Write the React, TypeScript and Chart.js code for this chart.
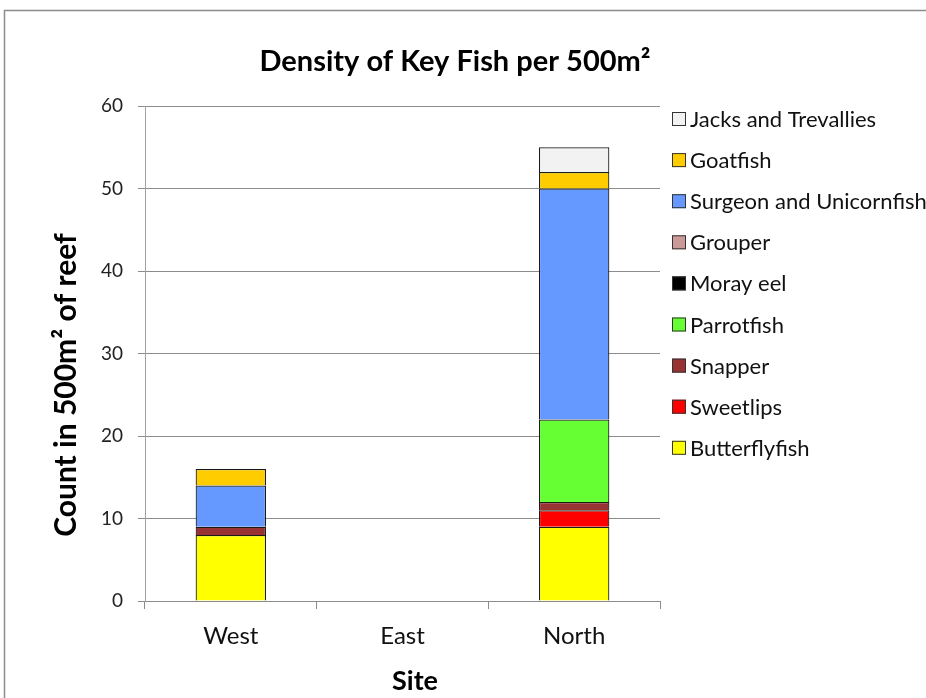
import React, { useEffect, useRef } from 'react';
import { Chart, registerables } from 'chart.js';

Chart.register(...registerables);

const sites = ['West', 'East', 'North'];
const speciesNames = [
  'Butterflyfish',
  'Sweetlips',
  'Snapper',
  'Parrotfish',
  'Moray eel',
  'Grouper',
  'Surgeon and Unicornfish',
  'Goatfish',
  'Jacks and Trevallies',
];
const butterflyfish = [8, 0, 9];
const sweetlips = [0, 0, 2];
const snapper = [1, 0, 1];
const parrotfish = [0, 0, 10];
const morayEel = [0, 0, 0];
const grouper = [0, 0, 0];
const surgeonUnicorn = [5, 0, 28];
const goatfish = [2, 0, 2];
const jacksTrevallies = [0, 0, 3];
const speciesColors = [
  '#FFFF00',
  '#FF0000',
  '#993333',
  '#66FF33',
  '#000000',
  '#CC9999',
  '#6699FF',
  '#FFCC00',
  '#F2F2F2',
];
const yMin = 0;
const yMax = 60;
const yStep = 10;

const chartTitle = 'Density of Key Fish per 500m²';
const yTitle = 'Count in 500m² of reef';
const xTitle = 'Site';

const FONT = 'Lato, "Open Sans", sans-serif';

const decorPlugin = {
  id: 'decor',
  beforeDraw(chart: any) {
    const ctx = chart.ctx;
    ctx.save();
    ctx.fillStyle = '#ffffff';
    ctx.fillRect(0, 0, chart.width, chart.height);
    ctx.strokeStyle = '#8c8c8c';
    ctx.lineWidth = 1.5;
    ctx.strokeRect(4.5, 10.5, chart.width + 20, chart.height + 20);
    ctx.restore();
  },
  afterDraw(chart: any) {
    const ctx = chart.ctx;
    const area = chart.chartArea;
    ctx.save();
    ctx.fillStyle = '#000000';
    ctx.textAlign = 'center';
    ctx.textBaseline = 'middle';
    // main title
    ctx.font = `bold 29px ${FONT}`;
    ctx.fillText(chartTitle, area.left + 310, area.top - 44);
    // x title
    ctx.font = `bold 27px ${FONT}`;
    ctx.fillText(xTitle, area.left + 270, area.bottom + 80);
    // y title
    ctx.save();
    ctx.translate(area.left - 79, area.top + 279);
    ctx.rotate(-Math.PI / 2);
    ctx.font = `bold 30px ${FONT}`;
    ctx.fillText(yTitle, 0, 0);
    ctx.restore();
    // legend (reversed order, like the reference)
    const datasets = chart.data.datasets;
    const boxX = area.right + 12;
    const startY = area.top + 13;
    const gap = 41.1;
    ctx.textAlign = 'left';
    ctx.font = `22px ${FONT}`;
    for (let i = datasets.length - 1, row = 0; i >= 0; i--, row++) {
      const ds = datasets[i];
      const cy = startY + row * gap;
      ctx.fillStyle = ds.backgroundColor;
      ctx.fillRect(boxX, cy - 7, 14, 14);
      ctx.strokeStyle = '#333333';
      ctx.lineWidth = 1;
      ctx.strokeRect(boxX + 0.5, cy - 6.5, 13, 13);
      ctx.fillStyle = '#111111';
      ctx.fillText(ds.label, boxX + 18, cy + 1);
    }
    ctx.restore();
  },
};

export default function App() {
  const canvasRef = useRef<HTMLCanvasElement | null>(null);

  useEffect(() => {
    if (!canvasRef.current) return;
    const seriesValues = [
      butterflyfish,
      sweetlips,
      snapper,
      parrotfish,
      morayEel,
      grouper,
      surgeonUnicorn,
      goatfish,
      jacksTrevallies,
    ];
    const chart = new Chart(canvasRef.current, {
      type: 'bar',
      data: {
        labels: sites,
        datasets: speciesNames.map((name, i) => ({
          label: name,
          data: seriesValues[i],
          backgroundColor: speciesColors[i],
          borderColor: '#1a1a1a',
          borderWidth: 1.2,
          categoryPercentage: 1,
          barPercentage: 0.41,
        })),
      },
      options: {
        responsive: false,
        animation: false,
        layout: { padding: { left: 4, top: 106, right: 266, bottom: 0 } },
        plugins: {
          legend: { display: false },
          title: { display: false },
          tooltip: { enabled: false },
        },
        scales: {
          x: {
            stacked: true,
            offset: true,
            afterFit: (scale: any) => {
              scale.height = 97;
            },
            grid: {
              display: true,
              drawOnChartArea: false,
              drawTicks: true,
              tickLength: 8,
              color: '#8c8c8c',
              offset: true,
            },
            border: { display: true, color: '#8c8c8c', width: 1 },
            ticks: {
              color: '#111111',
              font: { family: FONT, size: 24 },
              padding: 13,
            },
          },
          y: {
            stacked: true,
            min: yMin,
            max: yMax,
            afterFit: (scale: any) => {
              scale.width = 141;
            },
            grid: {
              color: '#8c8c8c',
              tickLength: 7,
              drawTicks: true,
            },
            border: { display: true, color: '#a0a0a0', width: 1 },
            ticks: {
              stepSize: yStep,
              color: '#222222',
              font: { family: FONT, size: 19 },
              padding: 15,
            },
          },
        },
      },
      plugins: [decorPlugin],
    });
    return () => chart.destroy();
  }, []);

  return (
    <div style={{ position: 'absolute', left: 0, top: 0, width: 926, height: 698 }}>
      <canvas ref={canvasRef} width={926} height={698} style={{ display: 'block' }} />
    </div>
  );
}
